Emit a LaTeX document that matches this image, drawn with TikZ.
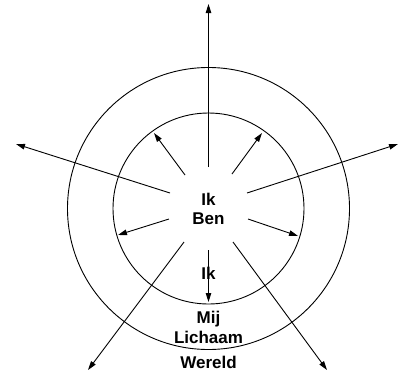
\documentclass[tikz,border=0pt]{standalone}
\usepackage{fontspec}
\setmainfont{Liberation Sans}
\usetikzlibrary{arrows.meta}
\begin{document}
\begin{tikzpicture}[x=1pt,y=-1pt,
  ring/.style={draw=black,line width=0.9pt},
  ray/.style={draw=black,line width=0.9pt,-{Triangle[length=9pt,width=5.5pt]}},
  lbl/.style={font=\fontsize{17}{20}\selectfont\bfseries,inner sep=0pt,anchor=base}]
\useasboundingbox (0,0) rectangle (399,373);
\coordinate (O) at (208.5,208.5);
\draw[ring] (O) circle[radius=141];
\draw[ring] (O) circle[radius=95.5];
% labels
\node[lbl] (ik) at (208.5,205) {Ik};
\node[lbl] (ben) at (208.5,224.3) {Ben};
\node[lbl] (ik2) at (208.5,279.5) {Ik};
\node[lbl] (mij) at (208.5,323.5) {Mij};
\node[lbl] (lich) at (208.5,343.5) {Lichaam};
\node[lbl] (wer) at (208.5,368) {Wereld};
% ray start points
\coordinate (sU) at (208.5,167);
\coordinate (sUL) at (185,175);
\coordinate (sUR) at (232,174);
\coordinate (sL) at (170,193);
\coordinate (sR) at (247,193);
\coordinate (sLs) at (169,219);
\coordinate (sRs) at (248,219);
\coordinate (sLL) at (184,242);
\coordinate (sLR) at (233,242);
\coordinate (sD) at (208.5,250);
% ray end points
\coordinate (eU) at (208.5,4);
\coordinate (eUL) at (154,133);
\coordinate (eUR) at (262,133);
\coordinate (eL) at (16,144);
\coordinate (eR) at (398,144);
\coordinate (eLs) at (118,235);
\coordinate (eRs) at (298,236);
\coordinate (eLL) at (88,370);
\coordinate (eLR) at (327,370);
\coordinate (eD) at (208.5,302);
\draw[ray] (sU) -- (eU);
\draw[ray] (sUL) -- (eUL);
\draw[ray] (sUR) -- (eUR);
\draw[ray] (sL) -- (eL);
\draw[ray] (sR) -- (eR);
\draw[ray] (sLs) -- (eLs);
\draw[ray] (sRs) -- (eRs);
\draw[ray] (sLL) -- (eLL);
\draw[ray] (sLR) -- (eLR);
\draw[ring] (sD) -- ([yshift=-3pt]ik2.north);
\draw[ray] ([yshift=3pt]ik2.south) -- (eD);
\end{tikzpicture}
\end{document}
